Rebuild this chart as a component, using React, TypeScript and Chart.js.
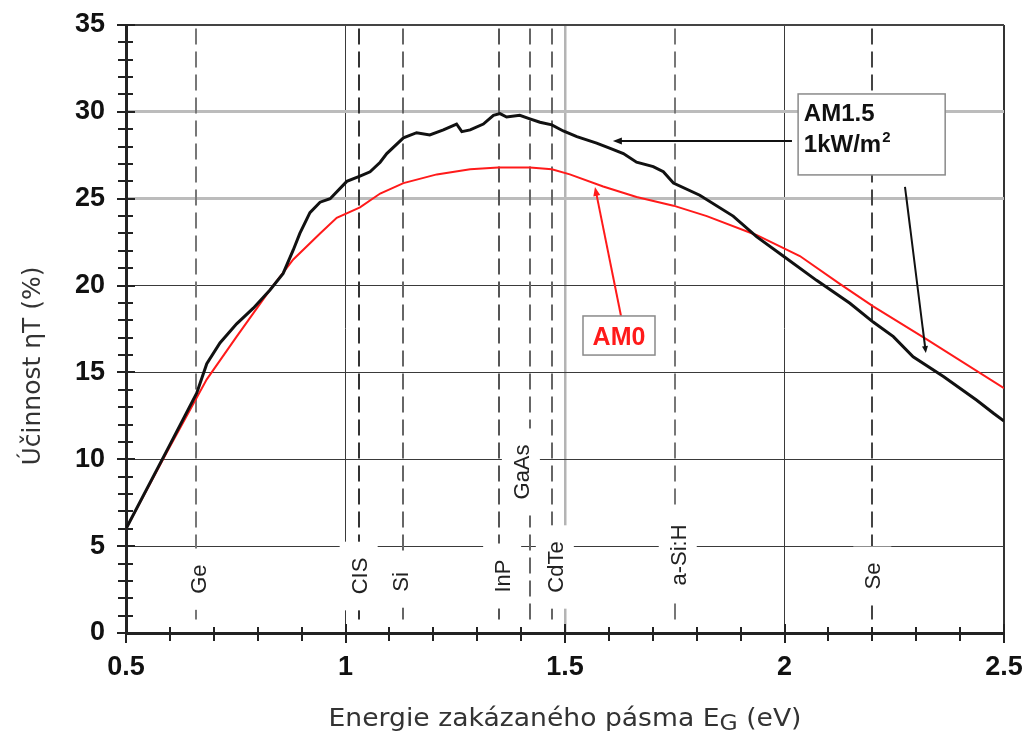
import { useEffect, useRef } from "react";
import { Chart, registerables } from "chart.js";

Chart.register(...registerables);

// Theoretical efficiency limit, AM1.5 spectrum (1 kW/m²)
const am15Energy = [
  0.5, 0.593, 0.661, 0.684, 0.714, 0.752, 0.79, 0.828, 0.858, 0.881, 0.896, 0.919,
  0.942, 0.965, 1.003, 1.033, 1.056, 1.079, 1.094, 1.132, 1.162, 1.192, 1.223, 1.253,
  1.265, 1.284, 1.314, 1.337, 1.352, 1.367, 1.397, 1.42, 1.443, 1.47, 1.496, 1.527,
  1.572, 1.603, 1.633, 1.663, 1.701, 1.724, 1.747, 1.807, 1.883, 1.937, 1.997, 2.073,
  2.149, 2.202, 2.248, 2.293, 2.362, 2.438, 2.476, 2.5,
];
const am15Efficiency = [
  6.0, 10.5, 13.8, 15.5, 16.7, 17.8, 18.7, 19.75, 20.7, 22.05, 23.0, 24.2,
  24.8, 25.0, 26.0, 26.3, 26.55, 27.1, 27.6, 28.5, 28.8, 28.67, 28.96, 29.3,
  28.86, 28.96, 29.3, 29.8, 29.9, 29.7, 29.8, 29.6, 29.4, 29.25, 28.9, 28.57,
  28.2, 27.9, 27.6, 27.1, 26.85, 26.55, 25.9, 25.2, 24.0, 22.8, 21.7, 20.3,
  18.98, 17.9, 17.06, 15.9, 14.76, 13.4, 12.65, 12.2,
];

// Theoretical efficiency limit, AM0 spectrum
const am0Energy = [
  0.5, 0.593, 0.684, 0.752, 0.828, 0.881, 0.942, 0.98, 1.033, 1.079, 1.132, 1.208,
  1.284, 1.348, 1.42, 1.47, 1.511, 1.587, 1.663, 1.747, 1.823, 1.937, 2.035, 2.126,
  2.202, 2.324, 2.5,
];
const am0Efficiency = [
  6.0, 10.4, 14.6, 17.06, 19.75, 21.5, 23.0, 23.9, 24.5, 25.3, 25.9, 26.4,
  26.7, 26.8, 26.8, 26.7, 26.4, 25.7, 25.1, 24.6, 24.0, 22.9, 21.7, 20.1,
  18.8, 16.9, 14.1,
];

// Band gaps of common absorber materials (eV)
const materialNames = ["Ge", "CIS", "Si", "InP", "GaAs", "CdTe", "a-Si:H", "Se"];
const materialGaps = [0.66, 1.03, 1.13, 1.35, 1.42, 1.47, 1.75, 2.2];

const xTickValues = [0.5, 1, 1.5, 2, 2.5];
const yTickValues = [0, 5, 10, 15, 20, 25, 30, 35];

// Label placement (efficiency value of the label centre, sideways nudge in px)
const labelCentre = [3.1, 3.28, 2.94, 3.28, 9.27, 3.8, 4.49, 3.28];
const labelNudge = [2, 0, -3, 3, -9, 3, 3, 0];
const gapLineColors = ["#777", "#333", "#666", "#555", "#666", "#666", "#777", "#444"];

const TICK_FONT = '"Liberation Sans", Arial, sans-serif';
const TITLE_FONT = '"DejaVu Sans", Verdana, sans-serif';

function drawArrow(
  ctx: CanvasRenderingContext2D,
  x1: number, y1: number, x2: number, y2: number,
  color: string, width: number, head = 9, half = 3.5
) {
  const ang = Math.atan2(y2 - y1, x2 - x1);
  const c = Math.cos(ang);
  const s = Math.sin(ang);
  ctx.strokeStyle = color;
  ctx.fillStyle = color;
  ctx.lineWidth = width;
  ctx.beginPath();
  ctx.moveTo(x1, y1);
  ctx.lineTo(x2 - c * head * 0.7, y2 - s * head * 0.7);
  ctx.stroke();
  ctx.beginPath();
  ctx.moveTo(x2, y2);
  ctx.lineTo(x2 - head * c + half * s, y2 - head * s - half * c);
  ctx.lineTo(x2 - head * c - half * s, y2 - head * s + half * c);
  ctx.closePath();
  ctx.fill();
}

const bandGapPlugin = {
  id: "bandGapMarkers",
  beforeDatasetsDraw(chart: any) {
    const { ctx, scales } = chart;
    const x = scales.x;
    const y = scales.y;
    ctx.save();

    // dashed band-gap lines
    ctx.lineWidth = 2;
    ctx.setLineDash([16, 7]);
    materialGaps.forEach((eg, i) => {
      const px = Math.round(x.getPixelForValue(eg));
      ctx.strokeStyle = gapLineColors[i];
      ctx.beginPath();
      ctx.moveTo(px, y.getPixelForValue(34.8));
      ctx.lineTo(px, y.getPixelForValue(0.7));
      ctx.stroke();
    });
    ctx.setLineDash([]);

    // rotated material names on white backing
    ctx.font = `22px ${TICK_FONT}`;
    const cap = 16;
    materialNames.forEach((name, i) => {
      const cx = x.getPixelForValue(materialGaps[i]) + labelNudge[i];
      const cy = y.getPixelForValue(labelCentre[i]);
      const w = ctx.measureText(name).width;
      ctx.fillStyle = "#fff";
      ctx.fillRect(cx - cap / 2 - 11, cy - w / 2 - 16, cap + 22, w + 32);
      ctx.save();
      ctx.translate(cx + cap / 2, cy);
      ctx.rotate(-Math.PI / 2);
      ctx.fillStyle = "#222";
      ctx.textAlign = "center";
      ctx.textBaseline = "alphabetic";
      ctx.fillText(name, 0, 0);
      ctx.restore();
    });
    ctx.restore();
  },
  afterDatasetsDraw(chart: any) {
    const { ctx, chartArea: a, scales } = chart;
    const x = scales.x;
    const y = scales.y;
    ctx.save();

    // tick marks crossing the axes
    ctx.strokeStyle = "#222";
    ctx.lineWidth = 2;
    for (let k = 5; k <= 25; k++) {
      const v = k / 10;
      const major = k % 5 === 0;
      const px = Math.round(x.getPixelForValue(v));
      ctx.beginPath();
      ctx.moveTo(px, a.bottom - (major ? 9 : 6));
      ctx.lineTo(px, a.bottom + (major ? 10 : 8));
      ctx.stroke();
    }
    for (let v = 0; v <= 35; v++) {
      const major = v % 5 === 0;
      const py = Math.round(y.getPixelForValue(v));
      ctx.beginPath();
      ctx.moveTo(a.left - (major ? 9 : 8), py);
      ctx.lineTo(a.left + (major ? 9 : 7), py);
      ctx.stroke();
    }

    // AM1.5 note
    const bx1 = x.getPixelForValue(2.031);
    const bx2 = x.getPixelForValue(2.366);
    const by1 = y.getPixelForValue(31.03);
    const by2 = y.getPixelForValue(26.37);
    ctx.fillStyle = "#fff";
    ctx.fillRect(bx1, by1, bx2 - bx1, by2 - by1);
    ctx.strokeStyle = "#8a8a8a";
    ctx.lineWidth = 1.5;
    ctx.strokeRect(bx1, by1, bx2 - bx1, by2 - by1);
    ctx.fillStyle = "#111";
    ctx.font = `bold 24px ${TICK_FONT}`;
    ctx.textAlign = "left";
    ctx.textBaseline = "alphabetic";
    const tx = x.getPixelForValue(2.044);
    ctx.fillText("AM1.5", tx, y.getPixelForValue(29.48));
    const l2y = y.getPixelForValue(27.69);
    ctx.fillText("1kW/m", tx, l2y);
    const mw = ctx.measureText("1kW/m").width;
    ctx.font = `bold 15px ${TICK_FONT}`;
    ctx.fillText("2", tx + mw + 1, l2y - 10);

    drawArrow(ctx, x.getPixelForValue(2.017), y.getPixelForValue(28.32),
      x.getPixelForValue(1.609), y.getPixelForValue(28.32), "#111", 2);
    drawArrow(ctx, x.getPixelForValue(2.2745), y.getPixelForValue(25.68),
      x.getPixelForValue(2.322), y.getPixelForValue(16.12), "#111", 2, 7, 3);

    // AM0 note
    const ax1 = x.getPixelForValue(1.541);
    const ax2 = x.getPixelForValue(1.705);
    const ay1 = y.getPixelForValue(18.25);
    const ay2 = y.getPixelForValue(16.0);
    drawArrow(ctx, x.getPixelForValue(1.6276), ay1,
      x.getPixelForValue(1.5683), y.getPixelForValue(25.68), "#ff1a1a", 2);
    ctx.fillStyle = "#fff";
    ctx.fillRect(ax1, ay1, ax2 - ax1, ay2 - ay1);
    ctx.strokeStyle = "#8a8a8a";
    ctx.lineWidth = 1.5;
    ctx.strokeRect(ax1, ay1, ax2 - ax1, ay2 - ay1);
    ctx.fillStyle = "#ff1a1a";
    ctx.font = `bold 25px ${TICK_FONT}`;
    ctx.textAlign = "center";
    ctx.fillText("AM0", (ax1 + ax2) / 2, (ay1 + ay2) / 2 + 9);

    // axis titles
    ctx.fillStyle = "#333";
    ctx.font = `25px ${TITLE_FONT}`;
    ctx.save();
    ctx.translate(40, 366);
    ctx.rotate(-Math.PI / 2);
    ctx.textAlign = "center";
    ctx.fillText("Účinnost ηT (%)", 0, 0);
    ctx.restore();

    const p1 = "Energie zakázaného pásma E";
    const p2 = "G";
    const p3 = " (eV)";
    ctx.font = `25px ${TITLE_FONT}`;
    const w1 = ctx.measureText(p1).width;
    const w3 = ctx.measureText(p3).width;
    ctx.font = `22px ${TITLE_FONT}`;
    const w2 = ctx.measureText(p2).width;
    const total = w1 + w2 + w3;
    const cx = (a.left + a.right) / 2;
    const base = 726;
    ctx.save();
    ctx.translate(cx, base);
    ctx.scale(473 / total, 1);
    ctx.textAlign = "left";
    ctx.font = `25px ${TITLE_FONT}`;
    ctx.fillText(p1, -total / 2, 0);
    ctx.font = `22px ${TITLE_FONT}`;
    ctx.fillText(p2, -total / 2 + w1, 4);
    ctx.font = `25px ${TITLE_FONT}`;
    ctx.fillText(p3, -total / 2 + w1 + w2, 0);
    ctx.restore();

    ctx.restore();
  },
};

export default function App() {
  const canvasRef = useRef<HTMLCanvasElement | null>(null);

  useEffect(() => {
    document.body.style.margin = "0";
    const canvas = canvasRef.current;
    if (!canvas) return;

    const chart = new Chart(canvas, {
      type: "line",
      data: {
        datasets: [
          {
            label: "AM1.5",
            data: am15Energy.map((e, i) => ({ x: e, y: am15Efficiency[i] })),
            borderColor: "#111",
            borderWidth: 3,
            pointRadius: 0,
            tension: 0,
            fill: false,
            order: 1,
          },
          {
            label: "AM0",
            data: am0Energy.map((e, i) => ({ x: e, y: am0Efficiency[i] })),
            borderColor: "#ff1a1a",
            borderWidth: 2,
            pointRadius: 0,
            tension: 0,
            fill: false,
            order: 2,
          },
        ],
      },
      options: {
        animation: false,
        responsive: false,
        maintainAspectRatio: false,
        layout: { padding: { top: 25, right: 28, left: 0, bottom: 0 } },
        plugins: { legend: { display: false }, tooltip: { enabled: false } },
        scales: {
          x: {
            type: "linear",
            min: 0.5,
            max: 2.5,
            afterBuildTicks: (s: any) => {
              s.ticks = xTickValues.map((v) => ({ value: v }));
            },
            afterFit: (s: any) => {
              s.height = 100;
              s.paddingLeft = 0;
              s.paddingRight = 0;
            },
            ticks: {
              autoSkip: false,
              maxRotation: 0,
              padding: 18,
              color: "#111",
              font: { family: TICK_FONT, size: 27, weight: "bold" },
              callback: (v: any) => String(v),
            },
            grid: {
              drawTicks: false,
              color: (c: any) => {
                const v = c.tick?.value;
                if (v === 1.5) return "#b4b4b4";
                if (v === 2.5) return "#333";
                if (v === 0.5) return "rgba(0,0,0,0)";
                return "#3a3a3a";
              },
              lineWidth: (c: any) => {
                const v = c.tick?.value;
                if (v === 1.5) return 2.5;
                if (v === 2.5) return 2;
                return 1;
              },
            },
            border: { color: "#222", width: 3 },
          },
          y: {
            min: 0,
            max: 35,
            afterBuildTicks: (s: any) => {
              s.ticks = yTickValues.map((v) => ({ value: v }));
            },
            afterFit: (s: any) => {
              s.width = 126;
              s.paddingTop = 0;
              s.paddingBottom = 0;
            },
            ticks: {
              padding: 21,
              color: "#111",
              font: { family: TICK_FONT, size: 27, weight: "bold" },
              callback: (v: any) => String(v),
            },
            grid: {
              drawTicks: false,
              color: (c: any) => {
                const v = c.tick?.value;
                if (v === 25 || v === 30) return "#bcbcbc";
                if (v === 35) return "#444";
                if (v === 0) return "rgba(0,0,0,0)";
                return "#3a3a3a";
              },
              lineWidth: (c: any) => {
                const v = c.tick?.value;
                if (v === 25 || v === 30) return 3;
                if (v === 35) return 2;
                return 1;
              },
            },
            border: { color: "#222", width: 3 },
          },
        },
      },
      plugins: [bandGapPlugin],
    } as any);

    return () => chart.destroy();
  }, []);

  return (
    <div style={{ width: 1032, height: 733, background: "#fff" }}>
      <canvas ref={canvasRef} width={1032} height={733} />
    </div>
  );
}
